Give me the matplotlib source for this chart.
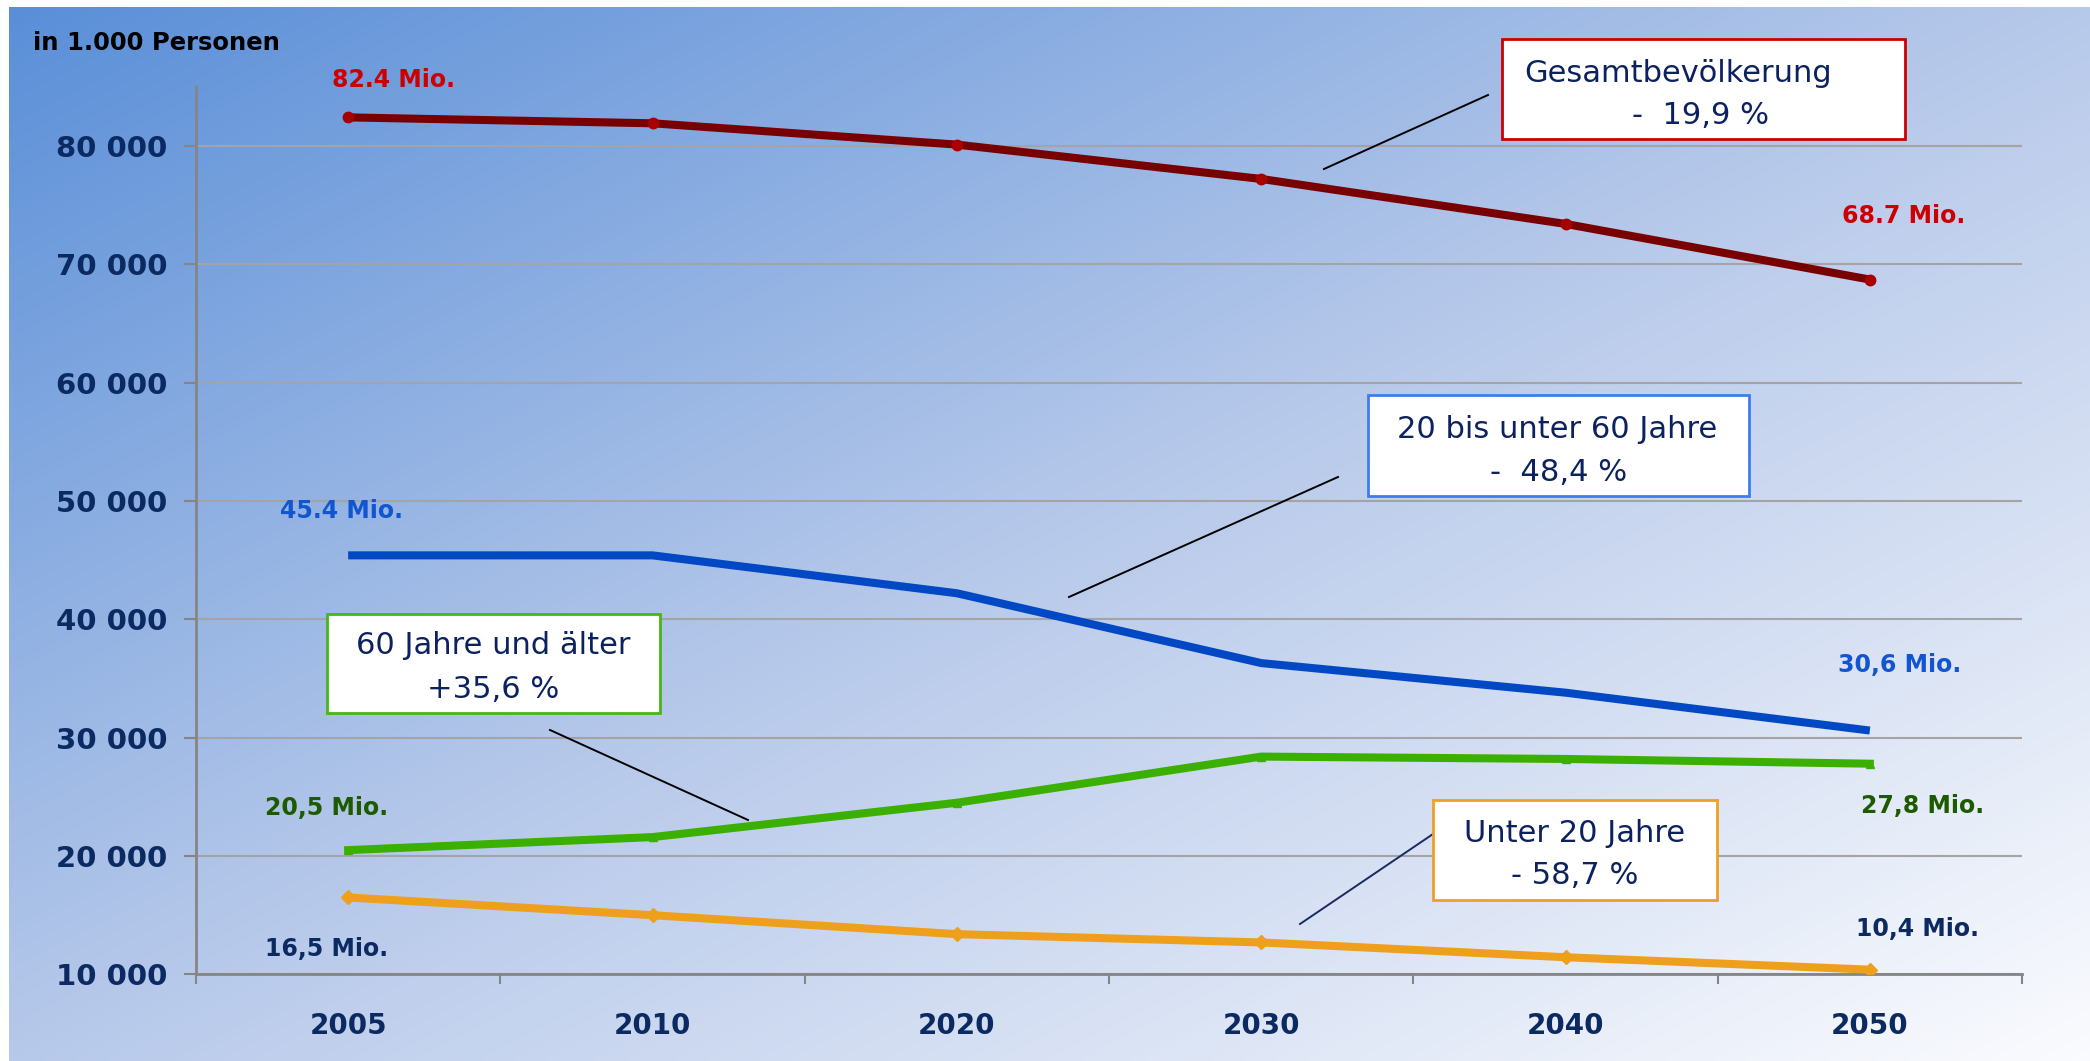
import numpy as np
import matplotlib
matplotlib.use("Agg")
import matplotlib.pyplot as plt
from matplotlib.colors import LinearSegmentedColormap
from matplotlib.patches import Rectangle
from matplotlib.lines import Line2D
from matplotlib.ticker import FuncFormatter

# --- data (population in 1,000 persons) ---
years = ["2005", "2010", "2020", "2030", "2040", "2050"]
total = [82400, 81900, 80100, 77200, 73400, 68700]
age_20_60 = [45400, 45400, 42200, 36300, 33800, 30600]
age_60_plus = [20500, 21600, 24500, 28400, 28200, 27800]
under_20 = [16500, 15000, 13400, 12700, 11450, 10400]

y_ticks = [10000, 20000, 30000, 40000, 50000, 60000, 70000, 80000]

W, H = 2090, 1061
fig = plt.figure(figsize=(W / 100, H / 100), dpi=100)
fig.patch.set_facecolor("white")


def fx(x):
    return x / W


def fy(y):
    return 1 - y / H


# diagonal blue-to-white background panel
bg = fig.add_axes([fx(9), 0, 1 - fx(9), 1 - 7 / H], zorder=0)
gx, gy = np.meshgrid(np.linspace(0, 1, 400), np.linspace(0, 1, 200))
t = (gx + gy) / 2
cmap = LinearSegmentedColormap.from_list(
    "bg", [(0.0, "#5a8fd8"), (0.5, "#b7c9ea"), (1.0, "#fafbfe")])
bg.imshow(t, cmap=cmap, aspect="auto", origin="upper", extent=[0, 1, 0, 1],
          interpolation="bilinear")
bg.set_axis_off()

# main plot area
ax = fig.add_axes([fx(196), fy(974.4), fx(2022) - fx(196), (974.4 - 86.6) / H],
                  zorder=1)
ax.set_facecolor("none")
x = np.arange(len(years))
ax.set_xlim(-0.5, len(years) - 0.5)
ax.set_ylim(10000, 85000)

ax.grid(axis="y", color="#a4a4a4", linewidth=1.5, zorder=1)
ax.set_axisbelow(True)

ax.plot(x, total, color="#780000", lw=5.8, marker="o", ms=7.5,
        mfc="#a80000", mec="#a80000", solid_capstyle="round", zorder=4)
ax.plot(x, age_20_60, color="#0048c4", lw=5.8, solid_capstyle="butt", zorder=4)
ax.plot(x, age_60_plus, color="#3cb000", lw=5.8, marker="^", ms=6,
        mfc="#3cb000", mec="#3cb000", zorder=4)
ax.plot(x, under_20, color="#eea01c", lw=5.8, marker="D", ms=7,
        mfc="#eea01c", mec="#eea01c", zorder=4)

for side in ("top", "right"):
    ax.spines[side].set_visible(False)
for side in ("left", "bottom"):
    ax.spines[side].set_color("#858585")
    ax.spines[side].set_linewidth(2)

navy = "#0c2a62"
ax.set_yticks(y_ticks)
ax.yaxis.set_major_formatter(FuncFormatter(lambda v, p: f"{int(v):,}".replace(",", " ")))
ax.tick_params(axis="y", direction="out", length=8.5, width=1.5, color="#858585",
               pad=12, labelsize=21, labelcolor=navy)
for lab in ax.get_yticklabels():
    lab.set_fontweight("bold")

ax.set_xticks(np.arange(-0.5, len(years)), labels=[""] * (len(years) + 1))
ax.tick_params(axis="x", which="major", direction="out", length=7.5, width=1.5,
               color="#858585")
ax.set_xticks(x, labels=years, minor=True)
ax.tick_params(axis="x", which="minor", length=0, pad=27, labelsize=20,
               labelcolor=navy)
for lab in ax.get_xticklabels(minor=True):
    lab.set_fontweight("bold")

# axis unit
fig.text(fx(33), fy(43), "in 1.000 Personen", fontsize=17.5, fontweight="bold",
         color="black", ha="left", va="center")

# start / end value labels
value_labels = [
    ("82.4 Mio.", 393, 80, "#cc0000"),
    ("68.7 Mio.", 1904, 216, "#cc0000"),
    ("45.4 Mio.", 341, 511, "#1255d0"),
    ("30,6 Mio.", 1900, 665, "#1255d0"),
    ("20,5 Mio.", 327, 808, "#1e5a00"),
    ("27,8 Mio.", 1923, 806, "#1e5a00"),
    ("16,5 Mio.", 327, 949, navy),
    ("10,4 Mio.", 1918, 929, navy),
]
for txt, px, py, col in value_labels:
    fig.text(fx(px), fy(py), txt, fontsize=17, fontweight="bold", color=col,
             ha="center", va="center", zorder=6)

# callout boxes with leader lines
boxes = [
    ((1502, 39, 1905, 139), "#cc0000",
     [("Gesamtbevölkerung", 1678, 73), ("-  19,9 %", 1701, 115)],
     ((1324, 169), (1488, 95)), "black"),
    ((1368, 395, 1749, 496), "#3d7cf0",
     [("20 bis unter 60 Jahre", 1557, 429), ("-  48,4 %", 1559, 472)],
     ((1069, 597), (1338, 477)), "black"),
    ((327, 614, 660, 713), "#44b814",
     [("60 Jahre und älter", 493, 646), ("+35,6 %", 493, 689)],
     ((550, 730), (748, 820)), "black"),
    ((1433, 800, 1717, 900), "#f0a020",
     [("Unter 20 Jahre", 1575, 833), ("- 58,7 %", 1575, 876)],
     ((1300, 924), (1436, 832)), "#1a2a60"),
]
for (x0, y0, x1, y1), edge, lines, (p0, p1), lcol in boxes:
    fig.add_artist(Line2D([fx(p0[0]), fx(p1[0])], [fy(p0[1]), fy(p1[1])],
                          color=lcol, lw=1.4, zorder=5))
    fig.add_artist(Rectangle((fx(x0), fy(y1)), fx(x1) - fx(x0), (y1 - y0) / H,
                             facecolor="white", edgecolor=edge, lw=2.0, zorder=6))
    for txt, tx, ty in lines:
        fig.text(fx(tx), fy(ty), txt, fontsize=22, color="#0c2260",
                 ha="center", va="center", zorder=7)

fig.savefig("out.png", dpi=100)
